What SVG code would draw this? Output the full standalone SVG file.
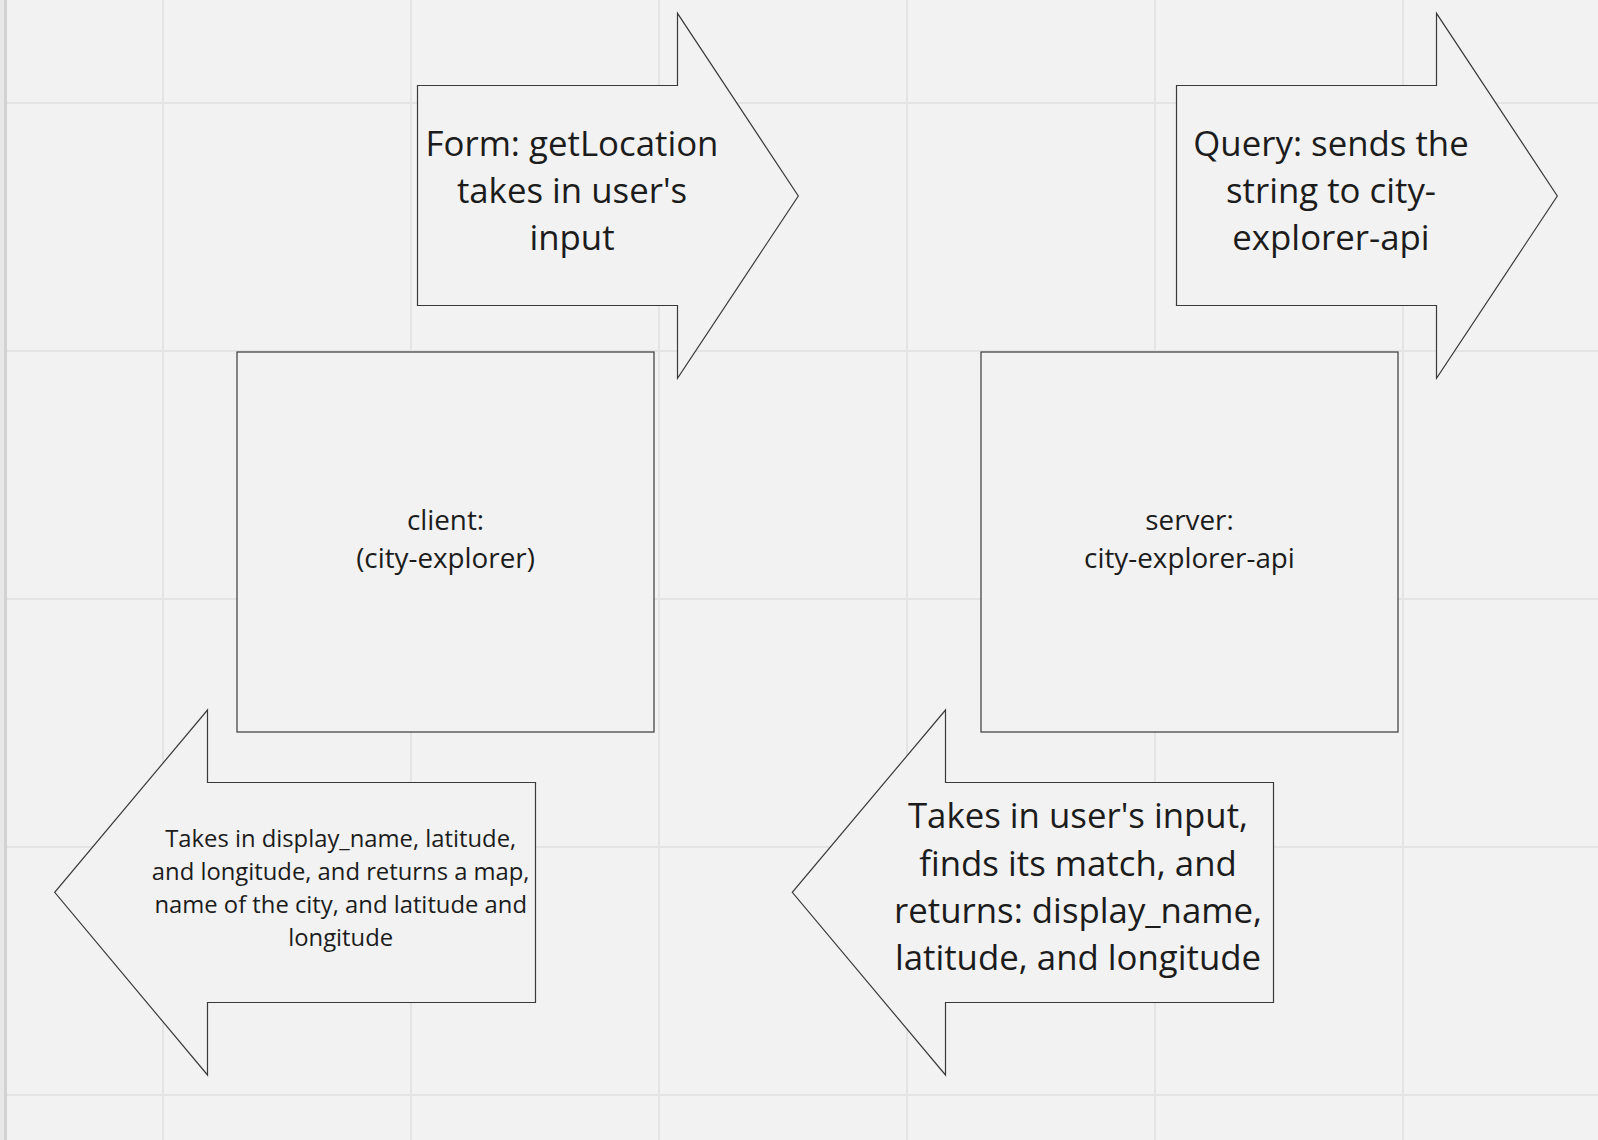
<svg xmlns="http://www.w3.org/2000/svg" width="1598" height="1140" viewBox="0 0 1598 1140">
<style>
.grid{stroke:#e4e4e4;stroke-width:2;fill:none}
.shape{fill:#f2f2f2;stroke:#3a3a3a;stroke-width:1.2}
.t{font-family:"Open Sans","Noto Sans",sans-serif;fill:#1c1c1c;text-anchor:middle}
.big{font-size:34.8px}
.mid{font-size:27.8px}
.small{font-size:23.8px}
</style>
<rect x="0" y="0" width="1598" height="1140" fill="#f2f2f2"/>
<g id="grid">
<path class="grid" d="M163 0V1140M411 0V1140M659 0V1140M907 0V1140M1155 0V1140M1403 0V1140M0 103H1598M0 351H1598M0 599H1598M0 847H1598M0 1095H1598"/>
<rect x="0" y="0" width="4" height="1140" fill="#e8e8e8"/>
<rect x="4" y="0" width="3" height="1140" fill="#d2d2d2"/>
</g>
<g id="connectors"></g>
<g id="client">
<rect class="shape" x="237" y="352" width="417" height="380"/>
<text class="t mid" x="445.5" y="530">client:</text>
<text class="t mid" x="445.5" y="568.3">(city-explorer)</text>
</g>
<g id="server">
<rect class="shape" x="981" y="352" width="417" height="380"/>
<text class="t mid" x="1189.5" y="530">server:</text>
<text class="t mid" x="1189.5" y="568.3">city-explorer-api</text>
</g>
<g id="arrow-form">
<polygon class="shape" points="417.5,85.5 677.5,85.5 677.5,13.3 798.3,196 677.5,378.3 677.5,305.5 417.5,305.5"/>
<text class="t big" x="572" y="155.7">Form: getLocation</text>
<text class="t big" x="572" y="202.7">takes in user's</text>
<text class="t big" x="572" y="249.7">input</text>
</g>
<g id="arrow-query">
<polygon class="shape" points="1176.5,85.5 1436.5,85.5 1436.5,13.3 1557.3,196 1436.5,378.3 1436.5,305.5 1176.5,305.5"/>
<text class="t big" x="1331" y="155.7">Query: sends the</text>
<text class="t big" x="1331" y="202.7">string to city-</text>
<text class="t big" x="1331" y="249.7">explorer-api</text>
</g>
<g id="arrow-returns-client">
<polygon class="shape" points="535.5,782.5 207.5,782.5 207.5,710 54.7,892.3 207.5,1075 207.5,1002.5 535.5,1002.5"/>
<text class="t small" x="340.7" y="846.7">Takes in display_name, latitude,</text>
<text class="t small" x="340.7" y="880">and longitude, and returns a map,</text>
<text class="t small" x="340.7" y="913.3">name of the city, and latitude and</text>
<text class="t small" x="340.7" y="945.7">longitude</text>
</g>
<g id="arrow-returns-server">
<polygon class="shape" points="1273.5,782.5 945.5,782.5 945.5,710 792.3,892.3 945.5,1075 945.5,1002.5 1273.5,1002.5"/>
<text class="t big" x="1078" y="828.3">Takes in user's input,</text>
<text class="t big" x="1078" y="875.6">finds its match, and</text>
<text class="t big" x="1078" y="922.9">returns: display_name,</text>
<text class="t big" x="1078" y="970.2">latitude, and longitude</text>
</g>
</svg>
